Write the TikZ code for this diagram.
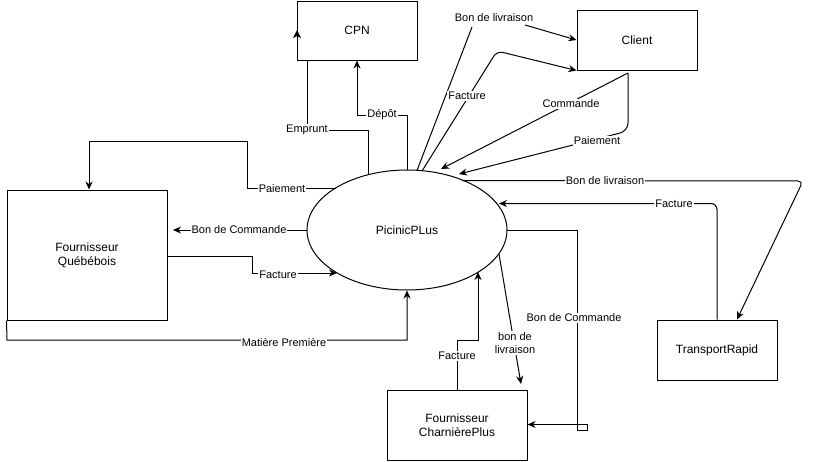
\documentclass[tikz,border=0pt]{standalone}
\usepackage{fontspec}
\setmainfont{Liberation Sans}
\usetikzlibrary{arrows.meta,shapes.geometric}
\begin{document}
\begin{tikzpicture}[x=1pt,y=-1pt,line width=1pt,
  box/.style={draw,rectangle,minimum width=120pt,minimum height=60pt,inner sep=0pt,font=\fontsize{12}{14}\selectfont,align=center},
  lab/.style={fill=white,inner sep=1pt,font=\fontsize{11}{13}\selectfont,align=center},
  arr/.style={-{Stealth[length=8pt,width=7pt,inset=2.5pt]}}]
\useasboundingbox (0,0) rectangle (816,461);

% nodes
\node[box,minimum height=59pt] (CPN) at (357,30.5) {CPN};
\node[box] (Client) at (637,40) {Client};
\node[box,minimum width=160pt,minimum height=130pt] (FQ) at (87,255) {Fournisseur\\Québébois};
\node[box,minimum width=140pt,minimum height=70pt] (FC) at (457,425) {Fournisseur\\CharnièrePlus};
\node[box] (TR) at (717,350) {TransportRapid};
\node[draw,ellipse,minimum width=200pt,minimum height=120pt,inner sep=0pt,font=\fontsize{12}{14}\selectfont] (P) at (407,230) {PicinicPLus};

% points on the ellipse and free ends
\coordinate (eEmp) at (368,175);
\coordinate (eBL1) at (417,170.5);
\coordinate (eFac1) at (422,171);
\coordinate (eCom) at (441,169);
\coordinate (ePai) at (459,174);
\coordinate (eBL2) at (462,180.5);
\coordinate (eFac2) at (499,203.5);
\coordinate (eBC2) at (507,230);
\coordinate (eBL3) at (499,254);
\coordinate (eFac3) at (478,272);
\coordinate (eFac4) at (337,273);
\coordinate (eBC1) at (307,230);
\coordinate (ePai2) at (336,188);
\coordinate (cBot) at (628,73);
\coordinate (bl1a) at (472,27);
\coordinate (bl1b) at (525,25);
\coordinate (fcTip) at (521,384);
\coordinate (fqTip) at (173,230);

% Emprunt
\draw (eEmp) -- (368,130) -- (307,130) -- (307,60);
\fill (293,38) -- (297,30) -- (301,38) -- (297,36) -- cycle;
% Depot
\draw[arr] (P.north) -- (407,115) -- (357,115) -- (CPN.south);
% Bon de livraison -> Client
\draw (eBL1) -- (bl1a);
\draw[arr] (bl1b) -- (Client.west);
% Facture -> Client
\draw[arr,rounded corners=6pt] (eFac1) -- (497,51) -- (Client.south west);
% Commande
\draw[arr] (cBot) -- (eCom);
% Paiement
\draw[arr,rounded corners=8pt] (cBot) -- (628,131) -- (ePai);
% Bon de livraison -> TransportRapid
\draw[arr,rounded corners=5pt] (eBL2) -- (803,181) -- (TR.north -| 737,0);
% Facture from TransportRapid
\draw[arr,rounded corners=6pt] (TR.north -| 717,0) -- (717,203.5) -- (eFac2);
% Bon de Commande -> CharnierePlus
\draw[arr] (eBC2) -- (577,230) -- (577,430) -- (587,430) -- (587,424.5) -- (577,424.5) -- (FC.east |- 0,424.5);
% bon de livraison -> CharnierePlus
\draw[arr] (eBL3) -- (fcTip);
% Facture from CharnierePlus
\draw[arr] (FC.north) -- (457,340) -- (478,340) -- (eFac3);
% Matiere Premiere
\draw[arr] (FQ.south west) -- (7,340) -- (407,340) -- (P.south);
% Facture from Quebebois
\draw[arr] (FQ.east |- 0,256) -- (252,256) -- (252,273) -- (eFac4);
% Bon de Commande -> Quebebois
\draw[arr] (eBC1) -- (fqTip);
% Paiement -> Quebebois
\draw[arr] (ePai2) -- (247,188) -- (247,141) -- (89,141) -- (FQ.north -| 89,0);

% labels
\node[lab] (lEmp) at (307,130) {Emprunt};
\node[lab] (lDep) at (382,115) {Dépôt};
\node[lab] (lBL1) at (494,18) {Bon de livraison};
\node[lab] (lFac1) at (467,96) {Facture};
\node[lab] (lCom) at (571,104) {Commande};
\node[lab] (lPai) at (597,141) {Paiement};
\node[lab] (lBL2) at (605,181) {Bon de livraison};
\node[lab] (lFac2) at (674,203.5) {Facture};
\node[lab] (lBC2) at (574,318) {Bon de Commande};
\node[lab] (lBL3) at (515,343) {bon de\\livraison};
\node[lab] (lFac3) at (457,356) {Facture};
\node[lab] (lMP) at (284,342) {Matière Première};
\node[lab] (lFac4) at (278,275) {Facture};
\node[lab] (lBC1) at (239,230) {Bon de Commande};
\node[lab] (lPai2) at (282,189) {Paiement};
\end{tikzpicture}
\end{document}
